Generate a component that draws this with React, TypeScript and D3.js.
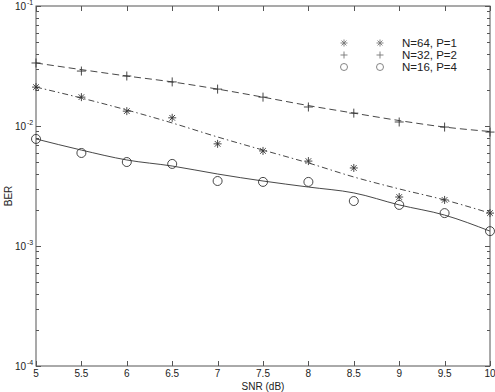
import { useEffect, useRef } from 'react';
import * as d3 from 'd3';

// SNR (dB) sample points
const snr = [5, 5.5, 6, 6.5, 7, 7.5, 8, 8.5, 9, 9.5, 10];

// N=64, P=1 (asterisk markers, dash-dot fit)
const ber64Marks = [0.0211, 0.0174, 0.0133, 0.0117, 0.0071, 0.0062, 0.0051, 0.00447, 0.00256, 0.00242, 0.00188];
const ber64Fit = [0.0211, 0.0171, 0.0136, 0.0106, 0.0081, 0.0063, 0.00492, 0.00376, 0.00299, 0.00242, 0.00188];

// N=32, P=2 (plus markers, dashed fit)
const ber32Marks = [0.0335, 0.0287, 0.0261, 0.0233, 0.0203, 0.0174, 0.0144, 0.0128, 0.0108, 0.0098, 0.0089];
const ber32Fit = [0.0335, 0.0295, 0.0261, 0.0233, 0.0203, 0.0174, 0.0148, 0.0128, 0.0111, 0.0098, 0.0090];

// N=16, P=4 (circle markers, solid fit)
const ber16Marks = [0.0078, 0.00596, 0.00501, 0.00483, 0.00348, 0.00342, 0.00342, 0.00237, 0.0022, 0.00188, 0.00133];
const ber16Fit = [0.0078, 0.0063, 0.00521, 0.00464, 0.00398, 0.00348, 0.0031, 0.00277, 0.0022, 0.00181, 0.00133];

const legendLabels = ['N=64, P=1', 'N=32, P=2', 'N=16, P=4'];
const xTicks = [5, 5.5, 6, 6.5, 7, 7.5, 8, 8.5, 9, 9.5, 10];
const yDecades = [-4, -3, -2, -1];

const W = 495;
const H = 392;

function App() {
  const ref = useRef<SVGSVGElement>(null);

  useEffect(() => {
    const svg = d3.select(ref.current);
    svg.selectAll('*').remove();

    const left = 36, right = 490, top = 6, bottom = 366;
    const ink = '#333';
    const axisInk = '#555';
    const font = 'Liberation Sans, Arial, sans-serif';

    const x = d3.scaleLinear().domain([5, 10]).range([left, right]);
    const y = d3.scaleLog().domain([1e-4, 1e-1]).range([bottom, top]);

    // frame
    svg.append('rect')
      .attr('x', left).attr('y', top)
      .attr('width', right - left).attr('height', bottom - top)
      .attr('fill', 'none').attr('stroke', axisInk).attr('stroke-width', 1);

    // x ticks (bottom + top, inward)
    xTicks.forEach((t) => {
      const px = Math.round(x(t)) + 0.5;
      svg.append('line').attr('x1', px).attr('x2', px).attr('y1', bottom).attr('y2', bottom - 5)
        .attr('stroke', axisInk);
      svg.append('line').attr('x1', px).attr('x2', px).attr('y1', top).attr('y2', top + 5)
        .attr('stroke', axisInk);
      svg.append('text')
        .attr('x', x(t)).attr('y', bottom + 11)
        .attr('text-anchor', 'middle')
        .attr('font-family', font).attr('font-size', 10).attr('fill', '#222')
        .text(String(t));
    });

    // y log ticks (left + right, inward)
    const minor: number[] = [];
    for (let d = -4; d < -1; d++) {
      for (let m = 2; m <= 9; m++) minor.push(m * Math.pow(10, d));
    }
    minor.forEach((v) => {
      const py = Math.round(y(v)) + 0.5;
      svg.append('line').attr('x1', left).attr('x2', left + 3).attr('y1', py).attr('y2', py).attr('stroke', axisInk);
      svg.append('line').attr('x1', right).attr('x2', right - 3).attr('y1', py).attr('y2', py).attr('stroke', axisInk);
    });
    yDecades.forEach((d) => {
      const v = Math.pow(10, d);
      const py = Math.round(y(v)) + 0.5;
      svg.append('line').attr('x1', left).attr('x2', left + 5).attr('y1', py).attr('y2', py).attr('stroke', axisInk);
      svg.append('line').attr('x1', right).attr('x2', right - 5).attr('y1', py).attr('y2', py).attr('stroke', axisInk);
      svg.append('text')
        .attr('x', 26).attr('y', y(v) + 4)
        .attr('text-anchor', 'end')
        .attr('font-family', font).attr('font-size', 10).attr('fill', '#222')
        .text('10');
      svg.append('text')
        .attr('x', 27).attr('y', y(v) - 1)
        .attr('font-family', font).attr('font-size', 7).attr('fill', '#222')
        .text(String(d));
    });

    // axis titles
    svg.append('text')
      .attr('x', (left + right) / 2).attr('y', 390)
      .attr('text-anchor', 'middle')
      .attr('font-family', font).attr('font-size', 10).attr('fill', '#222')
      .text('SNR (dB)');
    svg.append('text')
      .attr('transform', `translate(12,${(top + bottom) / 2 + 10}) rotate(-90)`)
      .attr('text-anchor', 'middle')
      .attr('font-family', font).attr('font-size', 10).attr('fill', '#222')
      .text('BER');

    const line = d3.line<number>()
      .x((_, i) => x(snr[i]))
      .y((v) => y(v))
      .curve(d3.curveMonotoneX);

    const plot = svg.append('g');

    plot.append('path').attr('d', line(ber32Fit))
      .attr('fill', 'none').attr('stroke', ink).attr('stroke-width', 0.9)
      .attr('stroke-dasharray', '7,4');
    plot.append('path').attr('d', line(ber64Fit))
      .attr('fill', 'none').attr('stroke', ink).attr('stroke-width', 0.9)
      .attr('stroke-dasharray', '6,3,1.5,3');
    plot.append('path').attr('d', line(ber16Fit))
      .attr('fill', 'none').attr('stroke', ink).attr('stroke-width', 0.9);

    const drawStar = (g: any, cx: number, cy: number, r: number, col: string) => {
      const k = r * 0.7071;
      const p = `M${cx - r},${cy}L${cx + r},${cy}M${cx},${cy - r}L${cx},${cy + r}` +
        `M${cx - k},${cy - k}L${cx + k},${cy + k}M${cx - k},${cy + k}L${cx + k},${cy - k}`;
      g.append('path').attr('d', p).attr('stroke', col).attr('stroke-width', 0.9).attr('fill', 'none');
    };
    const drawPlus = (g: any, cx: number, cy: number, r: number, col: string) => {
      const p = `M${cx - r},${cy}L${cx + r},${cy}M${cx},${cy - r}L${cx},${cy + r}`;
      g.append('path').attr('d', p).attr('stroke', col).attr('stroke-width', 0.9).attr('fill', 'none');
    };
    const drawCircle = (g: any, cx: number, cy: number, r: number, col: string) => {
      g.append('circle').attr('cx', cx).attr('cy', cy).attr('r', r)
        .attr('stroke', col).attr('stroke-width', 0.9).attr('fill', 'none');
    };

    snr.forEach((s, i) => {
      drawStar(plot, x(s), y(ber64Marks[i]), 4, ink);
      drawPlus(plot, x(s), y(ber32Marks[i]), 4.5, ink);
      drawCircle(plot, x(s), y(ber16Marks[i]), 4.5, ink);
    });

    // legend
    const legendRows = [drawStar, drawPlus, drawCircle];
    const legendInk = '#777';
    legendRows.forEach((fn, i) => {
      const ly = 43 + i * 12;
      fn(svg, 344, ly, 3.5, legendInk);
      fn(svg, 380, ly, 3.5, legendInk);
      svg.append('text')
        .attr('x', 402).attr('y', ly + 4)
        .attr('font-family', font).attr('font-size', 11.5).attr('fill', '#222')
        .text(legendLabels[i]);
    });
  }, []);

  return (
    <svg
      ref={ref}
      width={W}
      height={H}
      style={{ position: 'absolute', left: 0, top: 0, background: '#fff' }}
    />
  );
}

export default App;
